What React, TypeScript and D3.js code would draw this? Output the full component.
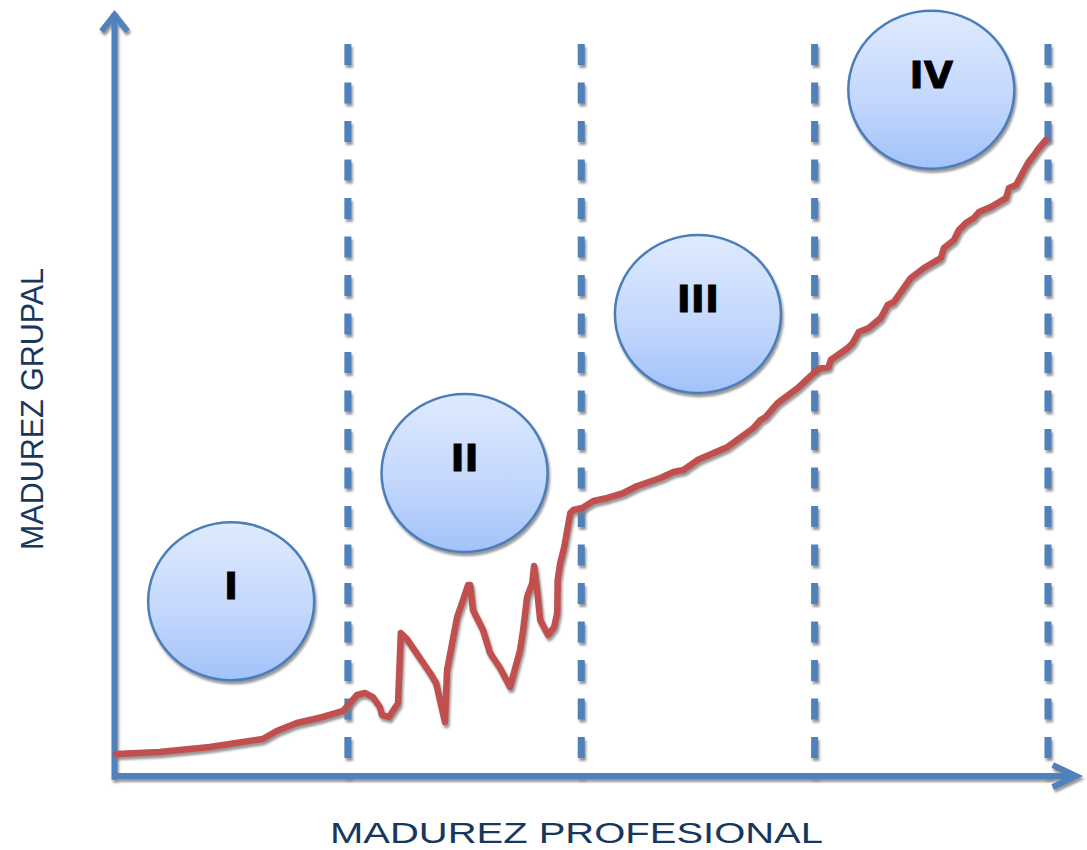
import { useEffect, useRef } from "react";
import * as d3 from "d3";

// curve: x in stages (0..4), y in maturity units (0..10)
const curveX = [
  0.009, 0.193, 0.408, 0.635, 0.695, 0.781, 0.893, 0.979, 1.009, 1.039, 1.073, 1.107,
  1.137, 1.146, 1.176, 1.215, 1.227, 1.253, 1.352, 1.378, 1.416, 1.425, 1.468, 1.489,
  1.515, 1.524, 1.536, 1.579, 1.609, 1.652, 1.695, 1.738, 1.751, 1.768, 1.79, 1.798,
  1.811, 1.824, 1.858, 1.884, 1.897, 1.899, 1.91, 1.927, 1.953, 1.966, 2.004, 2.052,
  2.112, 2.18, 2.24, 2.339, 2.395, 2.438, 2.498, 2.567, 2.627, 2.738, 2.768, 2.79,
  2.841, 2.927, 2.996, 3.017, 3.06, 3.069, 3.142, 3.163, 3.189, 3.232, 3.283, 3.313,
  3.339, 3.369, 3.412, 3.468, 3.541, 3.554, 3.597, 3.618, 3.648, 3.682, 3.704, 3.755,
  3.82, 3.833, 3.863, 3.893, 3.914, 3.94, 3.961, 3.991,
];
const curveY = [
  0.293, 0.32, 0.387, 0.493, 0.6, 0.707, 0.787, 0.867, 0.973, 1.08, 1.107, 1.053,
  0.92, 0.813, 0.787, 0.973, 1.907, 1.827, 1.373, 1.24, 0.72, 1.413, 2.12, 2.307,
  2.547, 2.547, 2.213, 1.947, 1.64, 1.44, 1.187, 1.68, 1.947, 2.387, 2.573, 2.8,
  2.48, 2.08, 1.88, 1.987, 2.173, 2.613, 2.84, 3.053, 3.507, 3.547, 3.573, 3.667,
  3.707, 3.773, 3.867, 3.973, 4.053, 4.08, 4.213, 4.307, 4.387, 4.64, 4.747, 4.787,
  4.973, 5.173, 5.373, 5.427, 5.453, 5.547, 5.707, 5.773, 5.92, 5.973, 6.107, 6.28,
  6.32, 6.453, 6.64, 6.773, 6.907, 7.04, 7.147, 7.28, 7.373, 7.44, 7.52, 7.587,
  7.707, 7.84, 7.88, 8.053, 8.173, 8.28, 8.373, 8.48,
];

const dividers = [1, 2, 3, 4];
const phaseLabels = ["I", "II", "III", "IV"];
const phaseX = [0.5, 1.5, 2.5, 3.5];
const phaseY = [2.33, 4.04, 6.16, 9.15];

const AXIS = "#4F81BD";
const RED = "#C0504D";
const NAVY = "#17375E";

export default function MaturityChart() {
  const svgRef = useRef<SVGSVGElement>(null);

  useEffect(() => {
    const svgEl = svgRef.current;
    if (!svgEl) return;
    const svg = d3.select(svgEl);
    svg.selectAll("*").remove();

    const x = d3.scaleLinear().domain([0, 4]).range([114.5, 1048]);
    const y = d3.scaleLinear().domain([0, 10]).range([776, 26]);

    const defs = svg.append("defs");
    const grad = defs
      .append("linearGradient")
      .attr("id", "bubble-fill")
      .attr("x1", "0%")
      .attr("y1", "0%")
      .attr("x2", "0%")
      .attr("y2", "100%");
    grad.append("stop").attr("offset", "0%").attr("stop-color", "#DFEAFE");
    grad.append("stop").attr("offset", "55%").attr("stop-color", "#C4D8FC");
    grad.append("stop").attr("offset", "100%").attr("stop-color", "#A2C2FA");

    defs
      .append("filter")
      .attr("id", "shade")
      .attr("x", "-10%")
      .attr("y", "-10%")
      .attr("width", "130%")
      .attr("height", "130%")
      .append("feDropShadow")
      .attr("dx", 1.5)
      .attr("dy", 3)
      .attr("stdDeviation", 0.8)
      .attr("flood-color", "#7f7f7f")
      .attr("flood-opacity", 0.8);

    // dashed dividers
    svg
      .append("g")
      .attr("filter", "url(#shade)")
      .selectAll("line")
      .data(dividers)
      .enter()
      .append("line")
      .attr("x1", (d) => x(d))
      .attr("x2", (d) => x(d))
      .attr("y1", y(9.76))
      .attr("y2", y(-0.03))
      .attr("stroke", AXIS)
      .attr("stroke-width", 7)
      .attr("stroke-dasharray", "21 17.5");

    // axes
    const axes = svg.append("g").attr("filter", "url(#shade)");
    axes
      .append("line")
      .attr("x1", x(0))
      .attr("x2", x(0))
      .attr("y1", y(-0.05))
      .attr("y2", y(10.17))
      .attr("stroke", AXIS)
      .attr("stroke-width", 6);
    axes
      .append("path")
      .attr(
        "d",
        `M${x(0) - 13},${y(9.93)} L${x(0)},${y(10.15)} L${x(0) + 13},${y(9.93)}`,
      )
      .attr("fill", "none")
      .attr("stroke", AXIS)
      .attr("stroke-width", 6)
      .attr("stroke-linejoin", "miter");
    axes
      .append("line")
      .attr("x1", x(-0.01))
      .attr("x2", x(4.12))
      .attr("y1", y(0))
      .attr("y2", y(0))
      .attr("stroke", AXIS)
      .attr("stroke-width", 6);
    axes
      .append("path")
      .attr(
        "d",
        `M${x(4.02)},${y(0) - 11} L${x(4.12)},${y(0)} L${x(4.02)},${y(0) + 11}`,
      )
      .attr("fill", "none")
      .attr("stroke", AXIS)
      .attr("stroke-width", 6)
      .attr("stroke-linejoin", "miter");

    // phase bubbles
    const bubbles = svg
      .append("g")
      .selectAll("g")
      .data(phaseLabels)
      .enter()
      .append("g");
    bubbles
      .append("ellipse")
      .attr("cx", (_, i) => x(phaseX[i]))
      .attr("cy", (_, i) => y(phaseY[i]))
      .attr("rx", 83)
      .attr("ry", 79)
      .attr("fill", "url(#bubble-fill)")
      .attr("stroke", "#4A7EBB")
      .attr("stroke-width", 2.5)
      .attr("filter", "url(#shade)");
    bubbles
      .append("text")
      .attr("x", (_, i) => x(phaseX[i]))
      .attr("y", (_, i) => y(phaseY[i]) - 2)
      .attr("text-anchor", "middle")
      .attr("font-family", "'DejaVu Sans', sans-serif")
      .attr("font-weight", "bold")
      .attr("font-size", "38px")
      .attr("fill", "#000")
      .attr("stroke", "#000")
      .attr("stroke-width", 0.8)
      .text((d) => d);

    // maturity curve
    const pts: [number, number][] = curveX.map((v, i) => [v, curveY[i]]);
    const line = d3
      .line<[number, number]>()
      .x((d) => x(d[0]))
      .y((d) => y(d[1]))
      .curve(d3.curveLinear);
    svg
      .append("path")
      .datum(pts)
      .attr("d", line)
      .attr("fill", "none")
      .attr("stroke", RED)
      .attr("stroke-width", 6.5)
      .attr("stroke-linejoin", "round")
      .attr("stroke-linecap", "round")
      .attr("filter", "url(#shade)");

    // axis titles
    svg
      .append("text")
      .attr("transform", "translate(43,409) rotate(-90)")
      .attr("text-anchor", "middle")
      .attr("font-family", "'Liberation Sans', Arial, sans-serif")
      .attr("font-size", "31px")
      .attr("fill", NAVY)
      .attr("textLength", 282)
      .attr("lengthAdjust", "spacingAndGlyphs")
      .text("MADUREZ GRUPAL");
    svg
      .append("text")
      .attr("x", 576.5)
      .attr("y", 843)
      .attr("text-anchor", "middle")
      .attr("font-family", "'Liberation Sans', Arial, sans-serif")
      .attr("font-size", "29px")
      .attr("fill", NAVY)
      .attr("textLength", 493)
      .attr("lengthAdjust", "spacingAndGlyphs")
      .text("MADUREZ PROFESIONAL");
  }, []);

  return (
    <svg
      ref={svgRef}
      width={1087}
      height={850}
      style={{ position: "absolute", left: 0, top: 0, background: "#fff" }}
    />
  );
}
